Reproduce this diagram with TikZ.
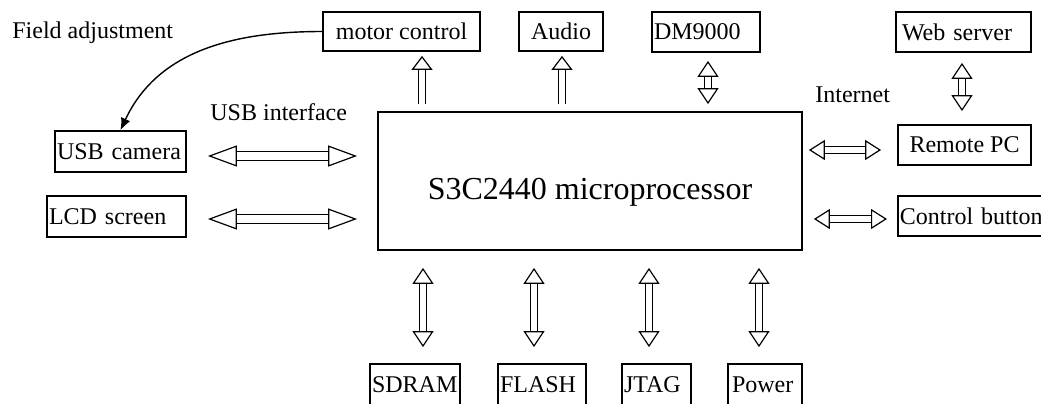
\documentclass[tikz,border=0pt]{standalone}
\usepackage{fontspec}
\setmainfont{Liberation Serif}
\usetikzlibrary{arrows.meta,calc}
\tikzset{
  unit/.style={draw,line width=0.9pt,minimum height=20pt,inner xsep=1pt,inner ysep=0pt,font=\fontsize{12}{14}\selectfont},
  unitL/.style={unit,align=left,text width=#1},
  cpubox/.style={unit},
  note/.style={font=\fontsize{12}{14}\selectfont,inner sep=0pt,anchor=west},
  bus/.style={double,double distance=2.8pt,line width=0.6pt},
  busdbl/.style={bus,{Triangle[open,line width=0.6pt,length=8pt,width=10.5pt]}-{Triangle[open,line width=0.6pt,length=8pt,width=10.5pt]}},
  busup/.style={bus,-{Triangle[open,line width=0.6pt,length=7pt,width=10.5pt]}},
  buswide/.style={bus,double distance=4pt,{Triangle[open,line width=0.6pt,length=14.5pt,width=10.5pt]}-{Triangle[open,line width=0.6pt,length=14.5pt,width=10.5pt]}},
  busnet/.style={bus,{Triangle[open,line width=0.6pt,length=8pt,width=10pt]}-{Triangle[open,line width=0.6pt,length=8pt,width=10pt]}},
  adjust/.style={-{Latex[length=6pt,width=5pt]},line width=0.7pt}
}
\begin{document}
\begin{tikzpicture}[x=0.5pt,y=-0.5pt]
  \useasboundingbox (0,0) rectangle (1041,403);
  \clip (0,0) rectangle (1041,403);

  % processor
  \node[cpubox,minimum width=212pt,minimum height=69pt,
    label={[font=\fontsize{16}{19}\selectfont,yshift=-5.5pt]center:S3C2440 microprocessor}] (cpu) at (590,181) {};

  % top row
  \node[unit,minimum width=78.5pt,minimum height=19.5pt] (motor) at (401.5,31.5) {motor control};
  \node[unit,minimum width=42pt,minimum height=19.5pt] (audio) at (561,31.5) {Audio};
  \node[unitL=52pt,minimum height=20pt] (dm) at (706,32) {DM9000};
  \node[unitL=65.5pt,minimum height=20pt] (web) at (963.5,32) {\hspace*{2pt}Web server};

  % right side
  \node[unit,minimum width=66.5pt,minimum height=20pt] (remote) at (964.5,145) {Remote PC};
  \node[unitL=80pt,minimum height=20pt,anchor=west] (button) at (897,216) {Control button};

  % left side
  \node[unitL=63.5pt,minimum height=20.5pt] (cam) at (120.5,151.5) {USB camera};
  \node[unitL=67.5pt,minimum height=20.5pt] (lcd) at (116.5,216.5) {LCD screen};

  % bottom row
  \node[unitL=43pt,minimum height=20.5pt] (sdram) at (415,384.5) {SDRAM};
  \node[unitL=42pt,minimum height=20.5pt] (flash) at (542,384.5) {FLASH};
  \node[unitL=32.5pt,minimum height=20.5pt] (jtag) at (656.5,384.5) {JTAG};
  \node[unitL=35pt,minimum height=20.5pt] (power) at (765,384.5) {\hspace*{1pt}Power};

  % labels
  \node[note] (fieldlbl) at (12,33) {Field adjustment};
  \node[note] (usblbl) at (210,112) {USB interface};
  \node[note] (netlbl) at (815,95) {Internet};

  % bus ends
  \coordinate (motorbus) at ($(motor.south)+(20.5,0)$);
  \coordinate (audiobus) at ($(audio.south)+(1,0)$);
  \coordinate (dmbus) at ($(dm.south)+(2,0)$);
  \coordinate (webbus) at ($(web.south)+(-1.5,0)$);
  \coordinate (sdrambus) at ($(sdram.north)+(8,0)$);
  \coordinate (flashbus) at ($(flash.north)+(-8,0)$);
  \coordinate (jtagbus) at ($(jtag.north)+(-7.5,0)$);
  \coordinate (powerbus) at ($(power.north)+(-6,0)$);
  \coordinate (cambus) at ($(cam.east)+(0,4.5)$);
  \coordinate (lcdbus) at ($(lcd.east)+(0,2.5)$);
  \coordinate (remotebus) at ($(remote.west)+(0,5)$);
  \coordinate (buttonbus) at ($(button.west)+(0,3)$);

  % buses to the top
  \draw[busup,shorten <=3.5pt,shorten >=2pt] (motorbus |- cpu.north) -- (motorbus);
  \draw[busup,shorten <=3.5pt,shorten >=2pt] (audiobus |- cpu.north) -- (audiobus);
  \draw[busdbl,shorten <=3.5pt,shorten >=4pt] (dmbus |- cpu.north) -- (dmbus);
  \draw[busdbl,shorten <=5pt,shorten >=6.5pt] (webbus) -- (webbus |- remote.north);

  % buses to the bottom
  \draw[busdbl,shorten <=8.5pt,shorten >=8pt] (sdrambus |- cpu.south) -- (sdrambus);
  \draw[busdbl,shorten <=8.5pt,shorten >=8pt] (flashbus |- cpu.south) -- (flashbus);
  \draw[busdbl,shorten <=8.5pt,shorten >=8pt] (jtagbus |- cpu.south) -- (jtagbus);
  \draw[busdbl,shorten <=8.5pt,shorten >=8pt] (powerbus |- cpu.south) -- (powerbus);

  % buses to the sides
  \draw[buswide,shorten <=10.5pt,shorten >=10pt] (cambus) -- (cambus -| cpu.west);
  \draw[buswide,shorten <=10.5pt,shorten >=10pt] (lcdbus) -- (lcdbus -| cpu.west);
  \draw[busnet,shorten <=3pt,shorten >=8pt] (remotebus -| cpu.east) -- (remotebus);
  \draw[busnet,shorten <=5.5pt,shorten >=5pt] (buttonbus -| cpu.east) -- (buttonbus);

  % field adjustment
  \draw[adjust] (motor.west) to[out=180,in=65] (cam.north);
\end{tikzpicture}
\end{document}
